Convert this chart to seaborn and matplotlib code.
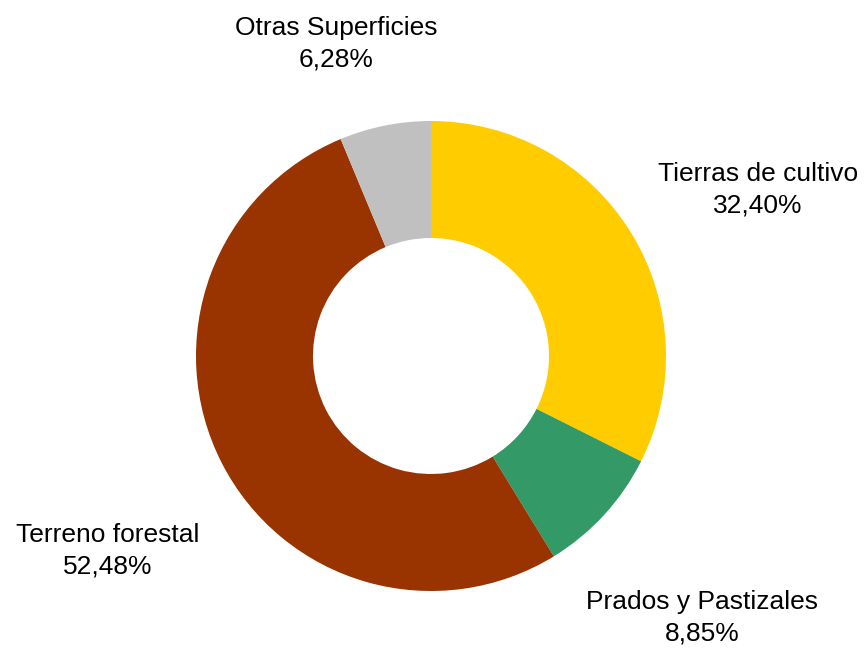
import matplotlib
matplotlib.use("Agg")
import matplotlib.pyplot as plt
import seaborn as sns

sns.set_theme(style="white")
plt.rcParams['font.family'] = ['Liberation Sans', 'DejaVu Sans']

# data
categorias = ['Tierras de cultivo', 'Prados y Pastizales', 'Terreno forestal', 'Otras Superficies']
porcentajes = [32.40, 8.85, 52.48, 6.28]
colores = ['#FFCC00', '#339966', '#993300', '#C0C0C0']

# label anchor points (pixel coords, origin bottom-left)
pos_etiquetas = [(758, 459), (702, 31), (108, 98), (336, 605)]

fig = plt.figure(figsize=(8.66, 6.49), dpi=100)
ax = fig.add_axes([0, 0, 1, 1])

ax.pie(porcentajes, colors=colores, startangle=90, counterclock=False,
       center=(431, 293), radius=235,
       wedgeprops=dict(width=117, linewidth=0))

for cat, val, (x, y) in zip(categorias, porcentajes, pos_etiquetas):
    txt = f"{cat}\n{val:.2f}%".replace('.', ',')
    ax.text(x, y, txt, ha='center', va='center', fontsize=19,
            linespacing=1.37, color='black')

ax.set_xlim(0, 866)
ax.set_ylim(0, 649)
ax.set_aspect('equal')
ax.axis('off')

fig.savefig('out.png', dpi=100, facecolor='white')
